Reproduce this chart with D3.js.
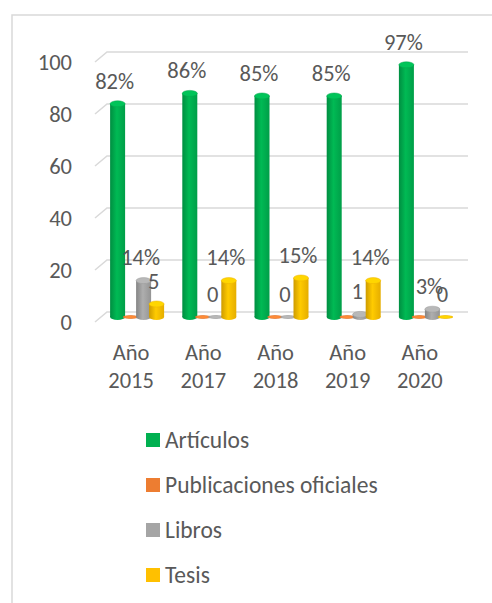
<!DOCTYPE html>
<html>
<head>
<meta charset="utf-8">
<script src="https://cdn.jsdelivr.net/npm/d3@7"></script>
<style>
  html, body { margin: 0; padding: 0; background: #fff; }
  svg text { font-family: Carlito, Lato, "Liberation Sans", sans-serif; fill: #595959; }
</style>
</head>
<body>
<svg id="chart" width="492" height="603"></svg>
<script>
// ---- data
var years = ["Año 2015", "Año 2017", "Año 2018", "Año 2019", "Año 2020"]
var seriesNames = ["Artículos", "Publicaciones oficiales", "Libros", "Tesis"]
var seriesColors = ["#00B050", "#ED7D31", "#A5A5A5", "#FFC000"]
var articulos = [82, 86, 85, 85, 97]
var publicaciones = [0, 0, 0, 0, 0]
var libros = [14, 0, 0, 1, 3]
var tesis = [5, 14, 15, 14, 0]
// data labels exactly as shown (orange series has none)
var articulosLabels = ["82%", "86%", "85%", "85%", "97%"]
var publicacionesLabels = [null, null, null, null, null]
var librosLabels = ["14%", "0", "0", "1", "3%"]
var tesisLabels = ["5", "14%", "15%", "14%", "0"]
var yTicks = [0, 20, 40, 60, 80, 100]

var allValues = [articulos, publicaciones, libros, tesis]
var allLabels = [articulosLabels, publicacionesLabels, librosLabels, tesisLabels]

// ---- layout
var margin = { left: 107, right: 24, top: 52, base: 312 },
    depth = { dx: -12, dy: 10 }   // front edge offset of the 3D floor
var fontSize = "22.5px", legendFont = "23.5px"
var svg = d3.select("#chart")

var yScale = d3.scaleLinear().domain([0, 100]).range([margin.base, margin.top])
var xScale = d3.scaleBand().domain(years).range([margin.left, 492 - margin.right])
var inner = d3.scaleBand().domain(seriesNames).range([-26, 26])
var midX = depth.dx / 2, midY = depth.dy / 2 // bars stand in the middle of the depth

// frame (only top and left edges visible)
svg.append("path").attr("d", "M12,603 L12,15 L492,15").attr("fill", "none").attr("stroke", "#d9d9d9").attr("stroke-width", 1.5)

// gridlines with a slanted front edge
svg.selectAll(".grid").data(yTicks).join("path").attr("class", "grid")
    .attr("d", d => "M" + (margin.left + depth.dx) + "," + (yScale(d) + depth.dy) + " L" + margin.left + "," + yScale(d) + " L" + (492 - margin.right) + "," + yScale(d))
    .attr("fill", "none").attr("stroke", "#d9d9d9").attr("stroke-width", 1.5)

svg.selectAll(".ylab").data(yTicks).join("text").attr("class", "ylab")
    .attr("x", 72).attr("y", d => yScale(d) + depth.dy).attr("dy", "0.35em")
    .attr("text-anchor", "end").style("font-size", fontSize).text(d => d)

// category labels, two lines each
svg.selectAll(".xlab").data(years).join("text").attr("class", "xlab")
    .attr("x", d => xScale(d) + xScale.bandwidth() / 2 + depth.dx)
    .attr("y", 352).attr("text-anchor", "middle").style("font-size", fontSize)
    .each(function (d) {
        var parts = d.split(" ")
        d3.select(this).selectAll("tspan").data(parts).join("tspan")
            .attr("x", d3.select(this).attr("x")).attr("dy", (p, i) => i == 0 ? "0.35em" : "28px").text(p => p)
    })

// gradients for cylinders
var defs = svg.append("defs")
seriesColors.forEach((c, i) => {
    var g = defs.append("linearGradient").attr("id", "cyl" + i).attr("x1", 0).attr("x2", 1).attr("y1", 0).attr("y2", 0)
    g.append("stop").attr("offset", "0%").attr("stop-color", d3.color(c).darker(0.6))
    g.append("stop").attr("offset", "45%").attr("stop-color", d3.color(c).brighter(0.15))
    g.append("stop").attr("offset", "100%").attr("stop-color", d3.color(c).darker(0.3))
})

var barW = 15, ry = 3
var base = yScale(0) + midY
seriesNames.forEach((s, si) => {
    var cx = i => xScale(years[i]) + xScale.bandwidth() / 2 + inner(s) + inner.bandwidth() / 2 + midX
    var g = svg.append("g").attr("class", "series")
    var vals = allValues[si]
    var bars = g.selectAll("g").data(vals).join("g")
    bars.append("rect")
        .attr("x", (d, i) => cx(i) - barW / 2).attr("width", barW)
        .attr("y", d => yScale(d) + midY).attr("height", d => base - (yScale(d) + midY))
        .attr("fill", "url(#cyl" + si + ")")
    bars.append("ellipse")
        .attr("cx", (d, i) => cx(i)).attr("cy", base).attr("rx", barW / 2).attr("ry", d => d == 0 ? 1.5 : ry)
        .attr("fill", "url(#cyl" + si + ")")
    bars.append("ellipse")
        .attr("cx", (d, i) => cx(i)).attr("cy", d => yScale(d) + midY).attr("rx", barW / 2).attr("ry", d => d == 0 ? 1.5 : ry)
        .attr("fill", d3.color(seriesColors[si]).brighter(0.3))
        .attr("stroke", d3.color(seriesColors[si]).darker(0.2)).attr("stroke-width", 0.5)
    // labels
    g.selectAll(".dlab").data(allLabels[si]).join("text").attr("class", "dlab")
        .filter(d => d != null)
        .attr("x", (d, i) => cx(i) - 3).attr("y", (d, i) => yScale(vals[i]) + midY - 23).attr("dy", "0.35em")
        .attr("text-anchor", "middle").style("font-size", fontSize).text(d => d)
})

// legend
var legend = svg.selectAll(".legend").data(seriesNames).join("g").attr("class", "legend")
    .attr("transform", (d, i) => "translate(146," + (440 + i * 45) + ")")
legend.append("rect").attr("x", 0).attr("y", -7).attr("width", 14).attr("height", 14).attr("fill", (d, i) => seriesColors[i])
legend.append("text").attr("x", 19).attr("dy", "0.35em").style("font-size", legendFont).text(d => d)
</script>
</body>
</html>
